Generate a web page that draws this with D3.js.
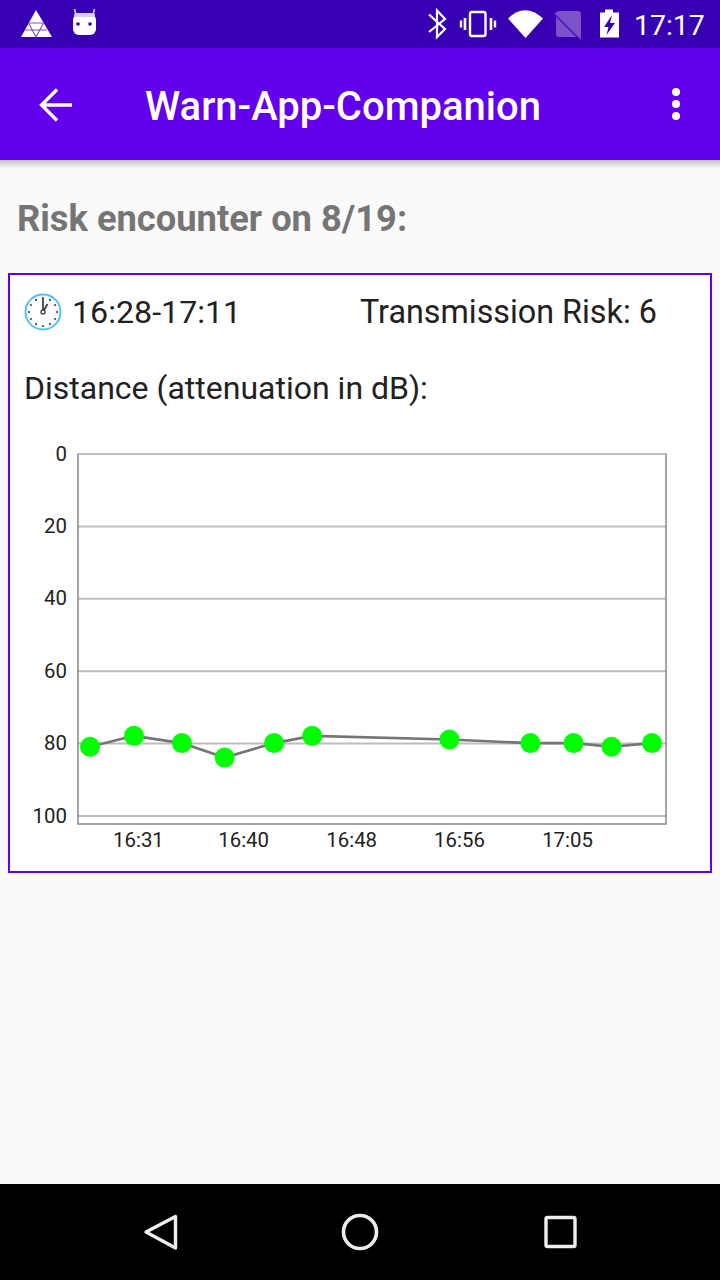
<!DOCTYPE html>
<html>
<head>
<meta charset="utf-8">
<script src="https://cdnjs.cloudflare.com/ajax/libs/d3/7.8.5/d3.min.js"></script>
<style>
  html, body { margin: 0; padding: 0; background: #fafafa; }
  svg { display: block; font-family: Roboto, sans-serif; }
  .axis text { font-size: 20.4px; fill: #212121; font-family: Roboto, sans-serif; }
</style>
</head>
<body>
<div id="screen"></div>
<script>
// encounter readings
var times = ["16:28:00", "16:31:22", "16:35:02", "16:38:18", "16:42:05", "16:45:00",
  "16:55:30", "17:01:42", "17:05:00", "17:07:54", "17:11:00"];
var attenuation = [81, 78, 80, 84, 80, 78, 79, 80, 80, 81, 80];

var yTicks = [0, 20, 40, 60, 80, 100];
var xTickTimes = ["16:31:40", "16:39:43", "16:47:59", "16:56:14", "17:04:30"];
var xTickLabels = ["16:31", "16:40", "16:48", "16:56", "17:05"];

var parseTime = d3.timeParse("%H:%M:%S");

var svg = d3.select("#screen")
  .append("svg")
  .attr("width", 720)
  .attr("height", 1280)
  .attr("viewBox", "0 0 720 1280");

var defs = svg.append("defs");
var shadow = defs.append("linearGradient")
  .attr("id", "barShadow")
  .attr("x1", 0).attr("x2", 0).attr("y1", 0).attr("y2", 1);
shadow.append("stop").attr("offset", 0).attr("stop-color", "#000").attr("stop-opacity", 0.22);
shadow.append("stop").attr("offset", 1).attr("stop-color", "#000").attr("stop-opacity", 0);

svg.append("rect").attr("width", 720).attr("height", 1280).attr("fill", "#fafafa");

// app bar
svg.append("rect").attr("y", 160).attr("width", 720).attr("height", 9).attr("fill", "url(#barShadow)");
svg.append("rect").attr("y", 48).attr("width", 720).attr("height", 112).attr("fill", "#6200ee");
svg.append("rect").attr("width", 720).attr("height", 48).attr("fill", "#3700b3");

svg.append("path")
  .attr("d", "M72 105H42M57 89.5L41.5 105L57 120.5")
  .attr("fill", "none").attr("stroke", "#fff").attr("stroke-width", 3.4);

svg.append("text")
  .attr("x", 145).attr("y", 120)
  .attr("font-size", 40).attr("font-weight", 500).attr("fill", "#fff")
  .text("Warn-App-Companion");

svg.selectAll(".menuDot")
  .data([92, 104, 116])
  .enter()
  .append("circle")
  .attr("cx", 676).attr("cy", d => d).attr("r", 4).attr("fill", "#fff");

// status bar, left icons
svg.append("path")
  .attr("d", "M36 10L52 37H21Z")
  .attr("fill", "#fff");
svg.append("path")
  .attr("d", "M28.5 23H43.5M25 30H47M28.5 23L36 37L43.5 23")
  .attr("fill", "none").attr("stroke", "#7b52c9").attr("stroke-width", 1.2);
svg.append("rect")
  .attr("x", 73).attr("y", 14).attr("width", 23).attr("height", 21).attr("rx", 6).attr("fill", "#fff");
svg.append("path")
  .attr("d", "M76 15L74.5 9M93 15L94.5 9")
  .attr("stroke", "#d9ccf0").attr("stroke-width", 1.6);
svg.append("rect")
  .attr("x", 74).attr("y", 13).attr("width", 21).attr("height", 4).attr("rx", 2).attr("fill", "#d9ccf0");
svg.selectAll(".botEye")
  .data([78, 90])
  .enter()
  .append("circle")
  .attr("cx", d => d).attr("cy", 24).attr("r", 1.8).attr("fill", "#3700b3");

// status bar, right icons
svg.append("path")
  .attr("d", "M429 14.5L445 29L437 37V10.5L445 19L429 32")
  .attr("fill", "none").attr("stroke", "#fff").attr("stroke-width", 2.2);
svg.append("rect")
  .attr("x", 470).attr("y", 12).attr("width", 15.5).attr("height", 24).attr("rx", 2)
  .attr("fill", "none").attr("stroke", "#fff").attr("stroke-width", 2.4);
svg.append("path")
  .attr("d", "M465 18V30M491 18V30")
  .attr("stroke", "#fff").attr("stroke-width", 2.6);
svg.append("path")
  .attr("d", "M461 20.5V27.5M495 20.5V27.5")
  .attr("stroke", "#fff").attr("stroke-width", 2.4);
svg.append("path")
  .attr("d", "M508 18.5Q525 2 543 18.5L525.5 38Z")
  .attr("fill", "#fff");
svg.append("path")
  .attr("d", "M559 11H578Q581 11 581 14V37H559Q556 37 556 34V14Q556 11 559 11Z")
  .attr("fill", "#7b52c9");
svg.append("path")
  .attr("d", "M555 14L581 40")
  .attr("stroke", "#3700b3").attr("stroke-width", 2.4);
svg.append("path")
  .attr("d", "M555 13L581 39")
  .attr("stroke", "#7b52c9").attr("stroke-width", 1.4);
svg.append("path")
  .attr("d", "M605 9.5H613V12.5H619V37.5H600V12.5H605Z")
  .attr("fill", "#fff");
svg.append("path")
  .attr("d", "M612 15L604 27H608.5L606.5 35L615 23H610Z")
  .attr("fill", "#3700b3");
svg.append("text")
  .attr("x", 634).attr("y", 35)
  .attr("font-size", 28.4).attr("fill", "#fff")
  .text("17:17");

// heading
svg.append("text")
  .attr("x", 17).attr("y", 231)
  .attr("font-size", 36.3).attr("font-weight", 700).attr("fill", "#757575")
  .text("Risk encounter on 8/19:");

// card
svg.append("rect")
  .attr("x", 9).attr("y", 274).attr("width", 702).attr("height", 598)
  .attr("fill", "#fff").attr("stroke", "#6200ee").attr("stroke-width", 2);

// clock icon
var clock = svg.append("g").attr("transform", "translate(43,312)");
clock.append("circle").attr("r", 17.5).attr("fill", "#fff").attr("stroke", "#4fc3f7").attr("stroke-width", 2);
clock.selectAll(".hourDot")
  .data(d3.range(12))
  .enter()
  .append("circle")
  .attr("cx", d => 14 * Math.sin(d * Math.PI / 6))
  .attr("cy", d => -14 * Math.cos(d * Math.PI / 6))
  .attr("r", 1.1)
  .attr("fill", "#424242");
clock.append("path")
  .attr("d", "M0 0V-14M0 0L4.5 -8")
  .attr("stroke", "#424242").attr("stroke-width", 1.8).attr("fill", "none");
clock.append("circle").attr("r", 2).attr("fill", "#fff").attr("stroke", "#424242").attr("stroke-width", 1.4);

svg.append("text")
  .attr("x", 72).attr("y", 323)
  .attr("font-size", 32.2).attr("fill", "#212121")
  .text("16:28-17:11");
svg.append("text")
  .attr("x", 360).attr("y", 323)
  .attr("font-size", 32.3).attr("fill", "#212121")
  .text("Transmission Risk: 6");
svg.append("text")
  .attr("x", 24).attr("y", 399)
  .attr("font-size", 32).attr("fill", "#212121")
  .text("Distance (attenuation in dB):");

// chart
var plot = { left: 78, right: 666, top: 454, bottom: 824 };
var zeroToHundred = 362;

var xScale = d3.scaleTime()
  .domain([parseTime(times[0]), parseTime(times[times.length - 1])])
  .range([90, 652]);

var yScale = d3.scaleLinear()
  .domain([0, 100])
  .range([plot.top - 0.5, plot.top - 0.5 + zeroToHundred]);

var leftAxis = d3.axisLeft(yScale)
  .tickValues(yTicks)
  .tickSize(plot.left - plot.right)
  .tickPadding(10);

var bottomAxis = d3.axisBottom(xScale)
  .tickValues(xTickTimes.map(parseTime))
  .tickFormat((d, i) => xTickLabels[i])
  .tickSize(0)
  .tickPadding(9);

var yAxisGroup = svg.append("g")
  .classed("axis", true)
  .attr("transform", `translate(${plot.left}, 0)`)
  .call(leftAxis);
yAxisGroup.select(".domain").remove();
yAxisGroup.selectAll("line").attr("stroke", "#bdbdbd").attr("stroke-width", 2);
yAxisGroup.selectAll("text").attr("x", -11);

svg.append("rect")
  .attr("x", plot.left).attr("y", plot.top)
  .attr("width", plot.right - plot.left).attr("height", plot.bottom - plot.top)
  .attr("fill", "none").attr("stroke", "#808080").attr("stroke-width", 1.4);
svg.append("line")
  .attr("x1", plot.left).attr("x2", plot.right)
  .attr("y1", plot.top).attr("y2", plot.top)
  .attr("stroke", "#bdbdbd").attr("stroke-width", 2);

var xAxisGroup = svg.append("g")
  .classed("axis", true)
  .attr("transform", `translate(0, ${plot.bottom})`)
  .call(bottomAxis);
xAxisGroup.select(".domain").remove();

var readings = times.map((t, i) => ({ time: parseTime(t), value: attenuation[i] }));

var line = d3.line()
  .x(d => xScale(d.time))
  .y(d => yScale(d.value));

svg.append("path")
  .datum(readings)
  .attr("d", line)
  .attr("fill", "none")
  .attr("stroke", "#757575")
  .attr("stroke-width", 2.6);

svg.selectAll(".reading")
  .data(readings)
  .enter()
  .append("circle")
  .classed("reading", true)
  .attr("cx", d => xScale(d.time))
  .attr("cy", d => yScale(d.value))
  .attr("r", 10)
  .attr("fill", "#00ff00");

// navigation bar
svg.append("rect").attr("y", 1184).attr("width", 720).attr("height", 96).attr("fill", "#000");
svg.append("path")
  .attr("d", "M175.5 1216.5V1248L146 1232Z")
  .attr("fill", "none").attr("stroke", "#eee").attr("stroke-width", 3.4).attr("stroke-linejoin", "round");
svg.append("circle")
  .attr("cx", 360).attr("cy", 1232).attr("r", 16.5)
  .attr("fill", "none").attr("stroke", "#eee").attr("stroke-width", 3.6);
svg.append("rect")
  .attr("x", 546).attr("y", 1217.5).attr("width", 29).attr("height", 29).attr("rx", 1.5)
  .attr("fill", "none").attr("stroke", "#eee").attr("stroke-width", 3.4);
</script>
</body>
</html>
